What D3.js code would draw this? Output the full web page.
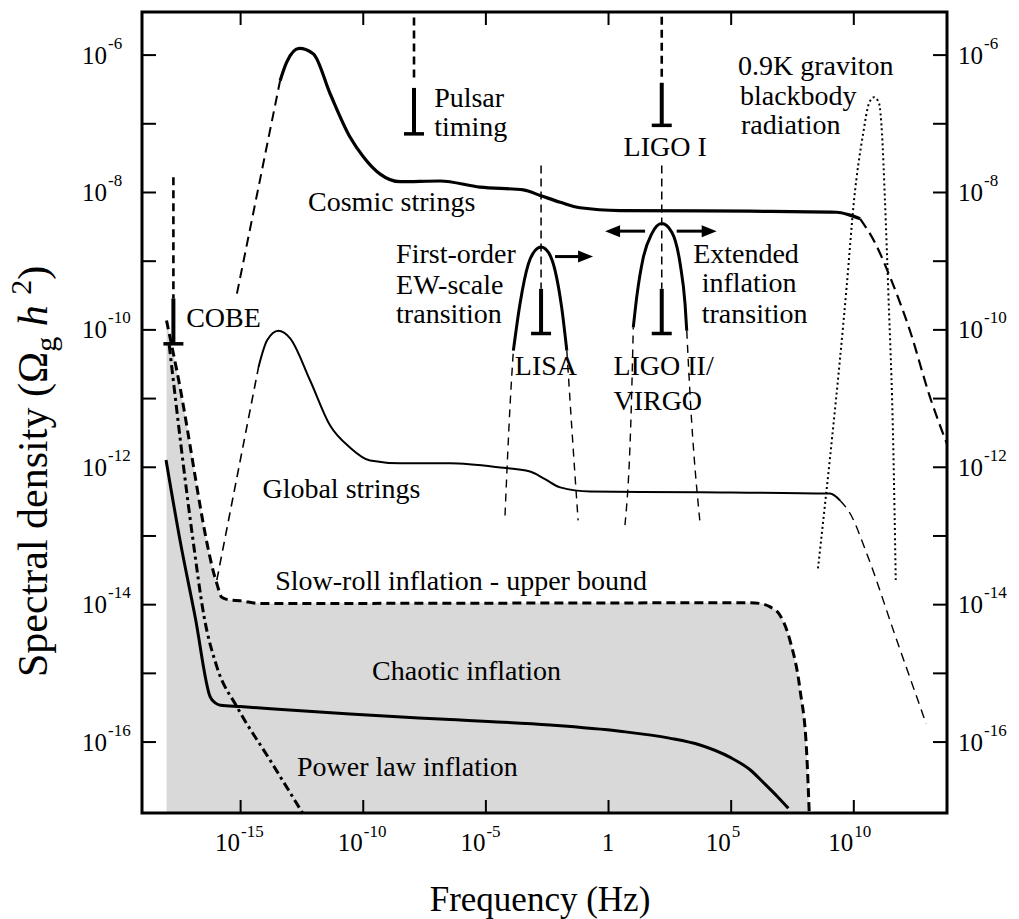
<!DOCTYPE html>
<html>
<head>
<meta charset="utf-8">
<script src="https://cdn.jsdelivr.net/npm/d3@7"></script>
<style>
body { margin: 0; background: #fff; }
svg text { font-family: "Liberation Serif", "Times New Roman", serif; fill: #000; }
</style>
</head>
<body>
<script>
// every value below is [log10 frequency (Hz), log10 Omega_g h^2]
var xTickExp = [-15, -10, -5, 0, 5, 10];
var yTickExp = [-16, -15, -14, -13, -12, -11, -10, -9, -8, -7, -6];
var yLabelExp = [-16, -14, -12, -10, -8, -6];

var cosmicRise = [[-15.13, -9.48], [-13.37, -6.38]];
var cosmicMain = [[-13.37, -6.38], [-13.10, -6.11], [-12.59, -5.91], [-12.01, -5.99], [-11.33, -6.57],
  [-10.52, -7.2], [-9.97, -7.49], [-9.29, -7.74], [-8.48, -7.85], [-6.85, -7.84], [-5.22, -7.93],
  [-3.45, -7.97], [-2.77, -8.05], [-1.95, -8.15], [-1.14, -8.23], [0.49, -8.27], [5.79, -8.28],
  [9.33, -8.295], [9.8, -8.33], [10.28, -8.39]];
var cosmicTail = [[10.28, -8.39], [10.9, -8.75], [11.5, -9.24], [12.31, -10.02], [13.13, -10.99], [13.81, -11.66]];

var globalRise = [[-15.95, -13.65], [-14.25, -10.55]];
var globalMain = [[-14.25, -10.55], [-13.9, -10.16], [-13.44, -10.02], [-12.96, -10.13], [-12.15, -10.74],
  [-11.33, -11.40], [-10.52, -11.72], [-9.70, -11.91], [-8.48, -11.95], [-6.44, -11.95], [-4.40, -12.01],
  [-3.18, -12.07], [-2.57, -12.18], [-1.95, -12.30], [-0.73, -12.36], [3.76, -12.37], [9.05, -12.39], [9.46, -12.49]];
var globalTail = [[9.46, -12.49], [9.87, -12.68], [10.55, -13.265], [11.7, -14.45], [12.97, -15.74]];

var slowRoll = [[-18.0, -9.87], [-17.58, -10.60], [-15.95, -13.70], [-15.75, -13.90], [-15.41, -13.94],
  [-15.0, -13.95], [-14.18, -13.99], [5.79, -13.98], [6.20, -13.99], [6.61, -14.04], [7.01, -14.16],
  [7.42, -14.53], [7.83, -15.25], [8.10, -16.17], [8.21, -17.1]];

var chaotic = [[-18.02, -11.90], [-17.45, -13.07], [-16.83, -14.19], [-16.22, -15.35], [-16.0, -15.44],
  [-15.8, -15.47], [-15.0, -15.49], [-10.52, -15.60], [-6.44, -15.68], [-2.36, -15.76], [0.49, -15.85],
  [2.5, -15.95], [3.75, -16.05], [4.98, -16.23], [5.79, -16.41], [6.40, -16.62], [6.93, -16.81], [7.35, -16.97]];

var powerLaw = [[-17.89, -10.23], [-16.92, -13.07], [-16.47, -14.18], [-15.94, -14.92], [-15.12, -15.50],
  [-13.78, -16.27], [-12.35, -17.1]];

var graviton = [[8.56, -13.48], [9.73, -9.375], [10.03, -8.12], [10.40, -7.15], [10.64, -6.71], [10.85, -6.62],
  [11.05, -6.71], [11.17, -7.15], [11.29, -8.12], [11.43, -9.48], [11.63, -11.71], [11.73, -13.65]];

var ewSolid = [[-3.86, -10.31], [-3.59, -9.63], [-3.25, -9.05], [-2.97, -8.85], [-2.73, -8.80], [-2.43, -8.88],
  [-2.16, -9.14], [-1.89, -9.68], [-1.68, -10.31]];
var ewLeft = [[-4.20, -12.71], [-3.99, -11.08], [-3.86, -10.31]];
var ewRight = [[-1.68, -10.31], [-1.47, -11.47], [-1.22, -12.78]];

var extSolid = [[1.03, -9.97], [1.17, -9.53], [1.44, -8.95], [1.78, -8.61], [2.19, -8.46], [2.60, -8.585],
  [2.94, -9.045], [3.14, -9.63], [3.21, -10.02]];
var extLeft = [[0.69, -12.85], [0.96, -10.99], [1.03, -9.97]];
var extRight = [[3.21, -10.02], [3.35, -10.99], [3.76, -12.85]];

var arrows = [[[-2.16, -8.94], [-0.61, -8.94]], [[1.51, -8.57], [-0.12, -8.57]], [[2.80, -8.57], [4.43, -8.57]]];

// f, dashed part [top, bottom], bar [top, bottom]
var detectors = [
  {f: -17.72, dash: [-7.785, -9.55], bar: [-9.55, -10.21], heavy: true},
  {f: -7.91, dash: [-5.46, -6.38], bar: [-6.485, -7.154], heavy: true},
  {f: 2.19, dash: [-5.45, -6.36], bar: [-6.41, -7.03], heavy: true},
  {f: -2.73, dash: [-7.615, -9.41], bar: [-9.41, -10.06], heavy: false},
  {f: 2.19, dash: [-7.615, -9.41], bar: [-9.41, -10.06], heavy: false}
];

// text, log f, log omega (baseline), anchor
var labels = [
  ["Pulsar", -7.09, -6.77, "start"], ["timing", -7.09, -7.18, "start"],
  ["LIGO I", 2.33, -7.47, "middle"],
  ["0.9K graviton", 5.30, -6.29, "start"], ["blackbody", 5.38, -6.73, "start"], ["radiation", 5.42, -7.16, "start"],
  ["Cosmic strings", -12.23, -8.27, "start"],
  ["First-order", -8.64, -9.03, "start"], ["EW-scale", -8.64, -9.48, "start"], ["transition", -8.64, -9.91, "start"],
  ["Extended", 3.47, -9.03, "start"], ["inflation", 3.82, -9.45, "start"], ["transition", 3.82, -9.90, "start"],
  ["COBE", -17.20, -9.97, "start"],
  ["LISA", -2.53, -10.67, "middle"],
  ["LIGO II/", 0.22, -10.67, "start"], ["VIRGO", 0.22, -11.18, "start"],
  ["Global strings", -14.09, -12.45, "start"],
  ["Slow-roll inflation - upper bound", -13.57, -13.80, "start"],
  ["Chaotic inflation", -9.62, -15.10, "start"],
  ["Power law inflation", -12.68, -16.50, "start"]
];

var W = 1019, H = 919;
var m = {l: 142, t: 12, r: 947, b: 813};
var E = function (v) { return Math.pow(10, v); };

var x = d3.scaleLog().domain([E(-19), E(13.82)]).range([m.l, m.r]);
var y = d3.scaleLog().domain([E(-17.04), E(-5.38)]).range([m.b, m.t]);
var px = function (d) { return x(E(d[0])); };
var py = function (d) { return y(E(d[1])); };

var svg = d3.select("body").append("svg").attr("width", W).attr("height", H);
var defs = svg.append("defs");
defs.append("clipPath").attr("id", "plot").append("rect")
  .attr("x", m.l).attr("y", m.t).attr("width", m.r - m.l).attr("height", m.b - m.t);

var g = svg.append("g").attr("clip-path", "url(#plot)");

// shaded region under the slow-roll bound
g.append("path").datum(slowRoll)
  .attr("d", d3.area().x(px).y0(m.b).y1(py).curve(d3.curveMonotoneX))
  .attr("fill", "#d9d9d9");

function draw(data, w, dash, curve) {
  g.append("path").datum(data)
    .attr("d", d3.line().x(px).y(py).curve(curve || d3.curveMonotoneX))
    .attr("fill", "none").attr("stroke", "#000").attr("stroke-width", w)
    .attr("stroke-dasharray", dash || null);
}

draw(cosmicRise, 2, "10,6", d3.curveLinear);
draw(cosmicMain, 3.2);
draw(cosmicTail, 2.2, "11,6");
draw(globalRise, 1.6, "9,6", d3.curveLinear);
draw(globalMain, 2);
draw(globalTail, 1.4, "9,6");
draw(slowRoll, 3, "9,5");
draw(chaotic, 3);
draw(powerLaw, 3, "9,4,3,4");
draw(graviton, 2, "2,3");
draw(ewSolid, 3);
draw(ewLeft, 1.4, "8,6");
draw(ewRight, 1.4, "8,6");
draw(extSolid, 3);
draw(extLeft, 1.4, "8,6");
draw(extRight, 1.4, "8,6");

detectors.forEach(function (d) {
  var xx = x(E(d.f));
  g.append("line").attr("x1", xx).attr("x2", xx).attr("y1", y(E(d.dash[0]))).attr("y2", y(E(d.dash[1])))
    .attr("stroke", "#000").attr("stroke-width", d.heavy ? 2.6 : 1.5).attr("stroke-dasharray", "8,5");
  g.append("line").attr("x1", xx).attr("x2", xx).attr("y1", y(E(d.bar[0]))).attr("y2", y(E(d.bar[1])))
    .attr("stroke", "#000").attr("stroke-width", 4);
  g.append("line").attr("x1", xx - 10).attr("x2", xx + 10).attr("y1", y(E(d.bar[1]))).attr("y2", y(E(d.bar[1])))
    .attr("stroke", "#000").attr("stroke-width", 3.5);
});

arrows.forEach(function (a) {
  var x0 = px(a[0]), x1 = px(a[1]), yy = py(a[0]);
  var s = x1 > x0 ? 1 : -1;
  g.append("line").attr("x1", x0).attr("x2", x1 - s * 10).attr("y1", yy).attr("y2", yy)
    .attr("stroke", "#000").attr("stroke-width", 3);
  g.append("path").attr("d", "M" + x1 + "," + yy + "L" + (x1 - s * 15) + "," + (yy - 6) + "L" + (x1 - s * 15) + "," + (yy + 6) + "Z")
    .attr("fill", "#000");
});

// ticks, drawn inward with d3 axes
function ticks(axis, tx, ty) {
  var a = svg.append("g").attr("transform", "translate(" + tx + "," + ty + ")").call(axis);
  a.select(".domain").remove();
  a.selectAll("line").attr("stroke", "#000").attr("stroke-width", 2);
}
var xt = xTickExp.map(E), yt = yTickExp.map(E);
ticks(d3.axisRight(y).tickValues(yt).tickSize(14).tickFormat(""), m.l, 0);
ticks(d3.axisLeft(y).tickValues(yt).tickSize(14).tickFormat(""), m.r, 0);
ticks(d3.axisTop(x).tickValues(xt).tickSize(13).tickFormat(""), 0, m.b);
ticks(d3.axisBottom(x).tickValues(xt).tickSize(13).tickFormat(""), 0, m.t);

svg.append("rect").attr("x", m.l).attr("y", m.t).attr("width", m.r - m.l).attr("height", m.b - m.t)
  .attr("fill", "none").attr("stroke", "#000").attr("stroke-width", 3);

// tick labels
yLabelExp.forEach(function (e) {
  var yy = y(E(e)) + 9;
  svg.append("text").attr("x", 107).attr("y", yy).attr("text-anchor", "end").attr("font-size", 25).text("10");
  svg.append("text").attr("x", 108).attr("y", yy - 15).attr("font-size", 17).text("-" + (-e));
  svg.append("text").attr("x", 958).attr("y", yy).attr("font-size", 25).text("10");
  svg.append("text").attr("x", 984).attr("y", yy - 15).attr("font-size", 17).text("-" + (-e));
});
xTickExp.forEach(function (e) {
  var xx = x(E(e));
  if (e === 0) {
    svg.append("text").attr("x", xx).attr("y", 851).attr("text-anchor", "middle").attr("font-size", 25).text("1");
    return;
  }
  svg.append("text").attr("x", xx).attr("y", 851).attr("text-anchor", "end").attr("font-size", 25).text("10");
  svg.append("text").attr("x", xx + 1).attr("y", 837).attr("font-size", 17).text(e < 0 ? "-" + (-e) : String(e));
});

// annotations
labels.forEach(function (l) {
  svg.append("text").attr("x", x(E(l[1]))).attr("y", y(E(l[2])))
    .attr("text-anchor", l[3]).attr("font-size", 28).text(l[0]);
});

// axis titles
svg.append("text").attr("x", 540).attr("y", 911).attr("text-anchor", "middle").attr("font-size", 35)
  .text("Frequency (Hz)");

var yt2 = svg.append("text").attr("transform", "translate(47,677) rotate(-90)").attr("font-size", 42);
yt2.append("tspan").text("Spectral density (\u03A9");
yt2.append("tspan").attr("font-size", 30).attr("dy", 9).text("g");
yt2.append("tspan").attr("dy", -9).text(" ");
yt2.append("tspan").attr("font-style", "italic").text("h");
yt2.append("tspan").text(" ");
yt2.append("tspan").attr("font-size", 30).attr("dy", -16).text("2");
yt2.append("tspan").attr("dy", 16).text(")");
</script>
</body>
</html>
